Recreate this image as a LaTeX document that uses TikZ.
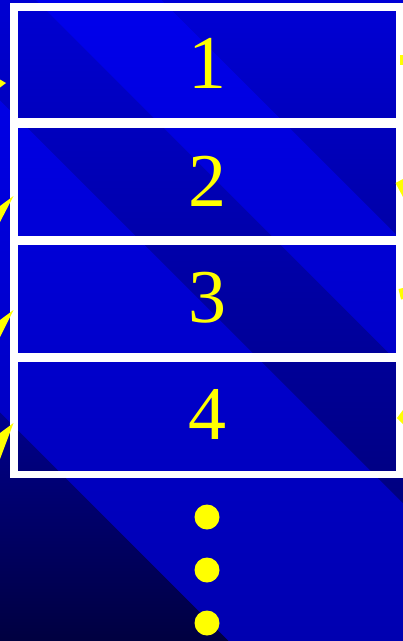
\documentclass[tikz,border=0pt]{standalone}
\usepackage{fontspec}
\setmainfont{Liberation Serif}
\definecolor{bAa}{RGB}{0,0,140}
\definecolor{bAb}{RGB}{0,0,64}
\definecolor{bBa}{RGB}{0,0,228}
\definecolor{bBb}{RGB}{0,0,176}
\definecolor{bCa}{RGB}{0,0,210}
\definecolor{bCb}{RGB}{0,0,128}
\definecolor{bDa}{RGB}{0,0,236}
\definecolor{bDb}{RGB}{0,0,200}
\definecolor{bEa}{RGB}{0,0,214}
\definecolor{bEb}{RGB}{0,0,166}
\definecolor{ylw}{RGB}{255,255,0}
\begin{document}
\begin{tikzpicture}[x=1pt,y=-1pt,
  band/.style={shading angle=45},
  framebar/.style={fill=white},
  numtext/.style={text=ylw, font=\fontsize{76}{76}\selectfont, inner sep=0pt},
  dotnode/.style={circle, fill=ylw, minimum size=25pt, inner sep=0pt},
  arrowhead/.style={fill=ylw}]
\useasboundingbox (0,0) rectangle (403,641);
\begin{scope}
\clip (0,0) rectangle (403,641);
\fill[bCa!70!bCb] (0,0) rectangle (403,641);
% diagonal bands
\shade[band, top color=bAa, bottom color=bAb] (0,412) -- (0,641) -- (229,641) -- cycle;
\shade[band, top color=bBa, bottom color=bBb] (0,100) -- (0,412) -- (229,641) -- (403,641) -- (403,503) -- cycle;
\shade[band, top color=bCa, bottom color=bCb] (0,0) -- (36,0) -- (403,367) -- (403,503) -- (0,100) -- cycle;
\shade[band, top color=bDa, bottom color=bDb] (36,0) -- (162,0) -- (403,241) -- (403,367) -- cycle;
\shade[band, top color=bEa, bottom color=bEb] (162,0) -- (403,0) -- (403,241) -- cycle;
% white frame
\fill[framebar] (10,3) rectangle (18,478);
\fill[framebar] (396,3) rectangle (403,478);
\fill[framebar] (10,3) rectangle (403,11);
\fill[framebar] (10,118) rectangle (403,128);
\fill[framebar] (10,236) rectangle (403,245);
\fill[framebar] (10,353) rectangle (403,362);
\fill[framebar] (10,471) rectangle (403,478);
% numbers
\node[numtext] (n1) at (207,63.5) {1};
\node[numtext] (n2) at (207,181) {2};
\node[numtext] (n3) at (207,297.5) {3};
\node[numtext] (n4) at (207,414) {4};
% dots
\node[dotnode] (d1) at (207,517) {};
\node[dotnode] (d2) at (207,570) {};
\node[dotnode] (d3) at (207,623) {};
% arrow heads (left)
\fill[arrowhead] (6,83) -- (0,79.5) -- (0,87.5) -- cycle;
\fill[arrowhead] (13.5,196) -- (0,206) -- (0,222) -- cycle;
\fill[arrowhead] (13.5,310) -- (0,320) -- (0,337) -- cycle;
\fill[arrowhead] (13.5,423) -- (0,433) -- (0,459) -- cycle;
% arrow heads (right)
\fill[arrowhead] (399.5,55) rectangle (403,65);
\fill[arrowhead] (395.5,183) -- (403,179) -- (403,197) -- cycle;
\fill[arrowhead] (398.5,289) -- (403,288) -- (403,299) -- (401,299.5) -- cycle;
\fill[arrowhead] (397,418) -- (403,410) -- (403,424) -- cycle;
\end{scope}
\end{tikzpicture}
\end{document}
